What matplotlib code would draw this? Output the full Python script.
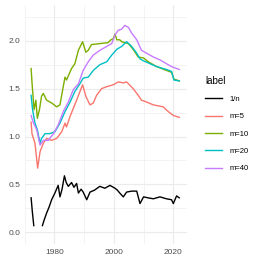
import numpy as np
import matplotlib.pyplot as plt

# valores (ano, valor)
anos_n = [1972.2, 1972.6, 1973.1, 1974.5, 1976.0, 1976.6, 1977.4, 1978.2, 1979.1, 1980.2, 1981.3, 1981.9,
          1982.6, 1983.4, 1984.0, 1984.7, 1985.8, 1986.6, 1987.5, 1988.1, 1989.0, 1989.7, 1990.9, 1992.0,
          1993.5, 1995.3, 1997.0, 1998.7, 2000.4, 2001.2, 2002.0, 2003.2, 2004.3, 2006.0, 2007.7, 2008.8,
          2010.0, 2011.5, 2013.3, 2015.5, 2017.7, 2019.4, 2020.0, 2021.1, 2022.0]
vals_n = [0.36, 0.22, 0.07, np.nan, 0.07, 0.13, 0.20, 0.26, 0.34, 0.41, 0.49, 0.37,
          0.45, 0.59, 0.52, 0.48, 0.52, 0.47, 0.51, 0.41, 0.45, 0.42, 0.34, 0.42,
          0.44, 0.48, 0.46, 0.49, 0.46, 0.44, 0.41, 0.37, 0.42, 0.43, 0.43, 0.30,
          0.37, 0.36, 0.35, 0.37, 0.35, 0.34, 0.30, 0.38, 0.36]

anos_5 = [1972.2, 1972.5, 1973.5, 1974.4, 1975.2, 1976.3, 1977.4, 1979.1, 1980.8, 1982.5, 1983.6, 1984.1,
          1985.3, 1987.5, 1989.5, 1990.6, 1992.0, 1993.1, 1994.2, 1995.9, 1997.6, 1999.8, 2001.5, 2003.2,
          2004.3, 2006.5, 2008.2, 2009.3, 2011.0, 2013.3, 2016.6, 2018.3, 2020.0, 2022.0]
vals_5 = [1.15, 1.03, 0.93, 0.67, 0.84, 0.93, 0.98, 0.96, 0.98, 1.05, 1.14, 1.10,
          1.21, 1.38, 1.54, 1.42, 1.33, 1.35, 1.43, 1.50, 1.52, 1.54, 1.57, 1.56,
          1.57, 1.50, 1.43, 1.38, 1.36, 1.33, 1.31, 1.26, 1.22, 1.20]

anos_10 = [1972.2, 1972.6, 1973.2, 1973.8, 1974.3, 1975.0, 1975.7, 1976.3, 1977.4, 1979.1, 1980.8, 1981.9,
           1983.0, 1983.6, 1984.1, 1985.8, 1986.9, 1988.1, 1989.5, 1990.6, 1991.4, 1992.5, 1995.3, 1998.1,
           1999.0, 1999.8, 2000.4, 2001.0, 2002.0, 2002.6, 2003.7, 2004.9, 2006.5, 2008.2, 2010.0, 2011.6,
           2014.4, 2017.7, 2019.4, 2020.2, 2022.0]
vals_10 = [1.71, 1.52, 1.28, 1.38, 1.19, 1.28, 1.42, 1.45, 1.38, 1.35, 1.31, 1.33,
           1.52, 1.62, 1.59, 1.71, 1.76, 1.90, 1.99, 1.88, 1.90, 1.96, 1.97, 1.98,
           2.01, 2.02, 2.07, 2.01, 2.01, 1.99, 1.98, 1.97, 1.91, 1.83, 1.82, 1.78,
           1.73, 1.69, 1.67, 1.60, 1.58]

anos_20 = [1972.2, 1972.7, 1973.5, 1974.3, 1975.2, 1975.7, 1976.9, 1978.5, 1980.2, 1981.9, 1983.6, 1985.3,
           1986.9, 1988.6, 1989.7, 1991.4, 1993.1, 1995.3, 1997.6, 1999.3, 2001.0, 2002.6, 2004.3, 2006.0,
           2007.7, 2008.8, 2010.0, 2012.2, 2014.4, 2017.7, 2019.4, 2020.2, 2022.0]
vals_20 = [1.43, 1.28, 1.14, 1.07, 0.93, 0.98, 1.03, 1.03, 1.05, 1.14, 1.26, 1.36,
           1.47, 1.55, 1.61, 1.62, 1.69, 1.75, 1.78, 1.85, 1.91, 1.94, 1.99, 1.94,
           1.87, 1.81, 1.79, 1.76, 1.73, 1.70, 1.68, 1.59, 1.58]

anos_40 = [1972.2, 1973.0, 1974.1, 1975.2, 1976.3, 1978.0, 1979.7, 1981.3, 1983.0, 1984.7, 1986.4, 1988.1,
           1989.7, 1991.4, 1993.1, 1995.3, 1997.6, 1999.3, 2000.4, 2001.5, 2002.6, 2003.7, 2004.9, 2006.0,
           2007.7, 2009.3, 2011.0, 2013.3, 2015.5, 2017.7, 2019.4, 2022.0]
vals_40 = [1.22, 1.14, 1.07, 0.91, 0.96, 0.96, 1.03, 1.12, 1.26, 1.36, 1.49, 1.55,
           1.69, 1.78, 1.85, 1.90, 1.94, 1.97, 2.06, 2.11, 2.12, 2.16, 2.14, 2.08,
           2.01, 1.90, 1.87, 1.83, 1.80, 1.76, 1.73, 1.70]

series = [
    ("1/n", anos_n, vals_n, "black"),
    ("m=5", anos_5, vals_5, "#F8766D"),
    ("m=10", anos_10, vals_10, "#7CAE00"),
    ("m=20", anos_20, vals_20, "#00BFC4"),
    ("m=40", anos_40, vals_40, "#C77CFF"),
]

plt.rcParams["font.family"] = ["Liberation Sans", "DejaVu Sans"]

W = 263
fig = plt.figure(figsize=(W / 100, W / 100), dpi=100)
ax = fig.add_axes([24.5 / W, 1 - 244 / W, (186.7 - 24.5) / W, (244 - 5) / W])

for nome, x, y, cor in series:
    ax.plot(x, y, color=cor, lw=1.0, label=nome)

ax.set_xlim(1969.98, 2024.5)
ax.set_ylim(-0.122, 2.373)
ax.set_xticks([1980, 2000, 2020])
ax.set_xticks([1970, 1990, 2010], minor=True)
ax.set_yticks([0.0, 0.5, 1.0, 1.5, 2.0])
ax.set_yticklabels(["0.0", "0.5", "1.0", "1.5", "2.0"])
ax.set_yticks([0.25, 0.75, 1.25, 1.75, 2.25], minor=True)
ax.grid(True, which="major", color="#EBEBEB", lw=0.8)
ax.grid(True, which="minor", color="#EBEBEB", lw=0.4)
ax.set_axisbelow(True)
for s in ax.spines.values():
    s.set_visible(False)
ax.tick_params(which="both", length=0, labelsize=6.0, labelcolor="#4D4D4D")
ax.tick_params(axis="y", pad=3.0)
ax.tick_params(axis="x", pad=3.5)

leg = fig.legend(loc="upper left", bbox_to_anchor=(198 / W, 1 - 69 / W), frameon=False,
                 title="label", fontsize=5.5, title_fontsize=7.0, handlelength=2.3,
                 handletextpad=0.9, labelspacing=1.3, alignment="left")
for h in leg.get_lines():
    h.set_linewidth(1.0)

plt.savefig("out.png", dpi=100)
